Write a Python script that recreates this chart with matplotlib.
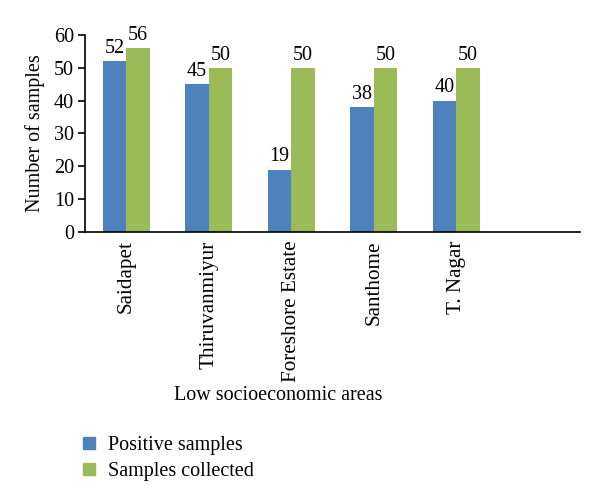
import matplotlib
matplotlib.use("Agg")
import matplotlib.pyplot as plt
import numpy as np
from matplotlib.patches import Patch

categories = ["Saidapet", "Thiruvanmiyur", "Foreshore Estate", "Santhome", "T. Nagar", ""]
positive = [52, 45, 19, 38, 40]
collected = [56, 50, 50, 50, 50]
yticks = [0, 10, 20, 30, 40, 50, 60]

plt.rcParams['font.family'] = ['Liberation Serif', 'DejaVu Serif']
FS = 14.5
blue = "#4F81BD"
green = "#9BBB59"

fig = plt.figure(figsize=(6, 5.03), dpi=100)
ax = fig.add_axes([0.1417, 0.5388, 0.825, 0.3916])

x = np.arange(len(categories))
w = 0.285
n = len(positive)
ax.bar(x[:n] - w/2, positive, w, color=blue)
ax.bar(x[:n] + w/2, collected, w, color=green)
for i in range(n):
    ax.text(x[i] - w/2, positive[i] + 1, str(positive[i]), ha='center', va='bottom', fontsize=FS)
    ax.text(x[i] + w/2, collected[i] + 1, str(collected[i]), ha='center', va='bottom', fontsize=FS)

ax.set_xlim(-0.5, len(categories) - 0.5)
ax.set_ylim(0, 60)
ax.set_yticks(yticks)
ax.set_yticklabels([str(t) for t in yticks], fontsize=FS)
ax.set_xticks(x)
ax.set_xticklabels(categories, rotation=90, fontsize=15.2)
ax.tick_params(axis='x', length=0, pad=6)
ax.tick_params(axis='y', direction='out', length=5, width=1.2, pad=3)
for s in ['top', 'right']:
    ax.spines[s].set_visible(False)
ax.spines['left'].set_linewidth(1.2)
ax.spines['bottom'].set_linewidth(1.2)
ax.set_ylabel("Number of samples", fontsize=FS, labelpad=6)

fig.text(278/600, 1 - 396/503, "Low socioeconomic areas", ha='center', va='center', fontsize=FS)

handles = [Patch(color=blue), Patch(color=green)]
fig.legend(handles, ["Positive samples", "Samples collected"], loc='upper left',
           bbox_to_anchor=(83/600, 1 - 436/503), frameon=False, fontsize=FS,
           handlelength=0.6, handleheight=0.6, handletextpad=0.65, labelspacing=0.35,
           borderaxespad=0, borderpad=0)

fig.savefig("out.png", dpi=100)
